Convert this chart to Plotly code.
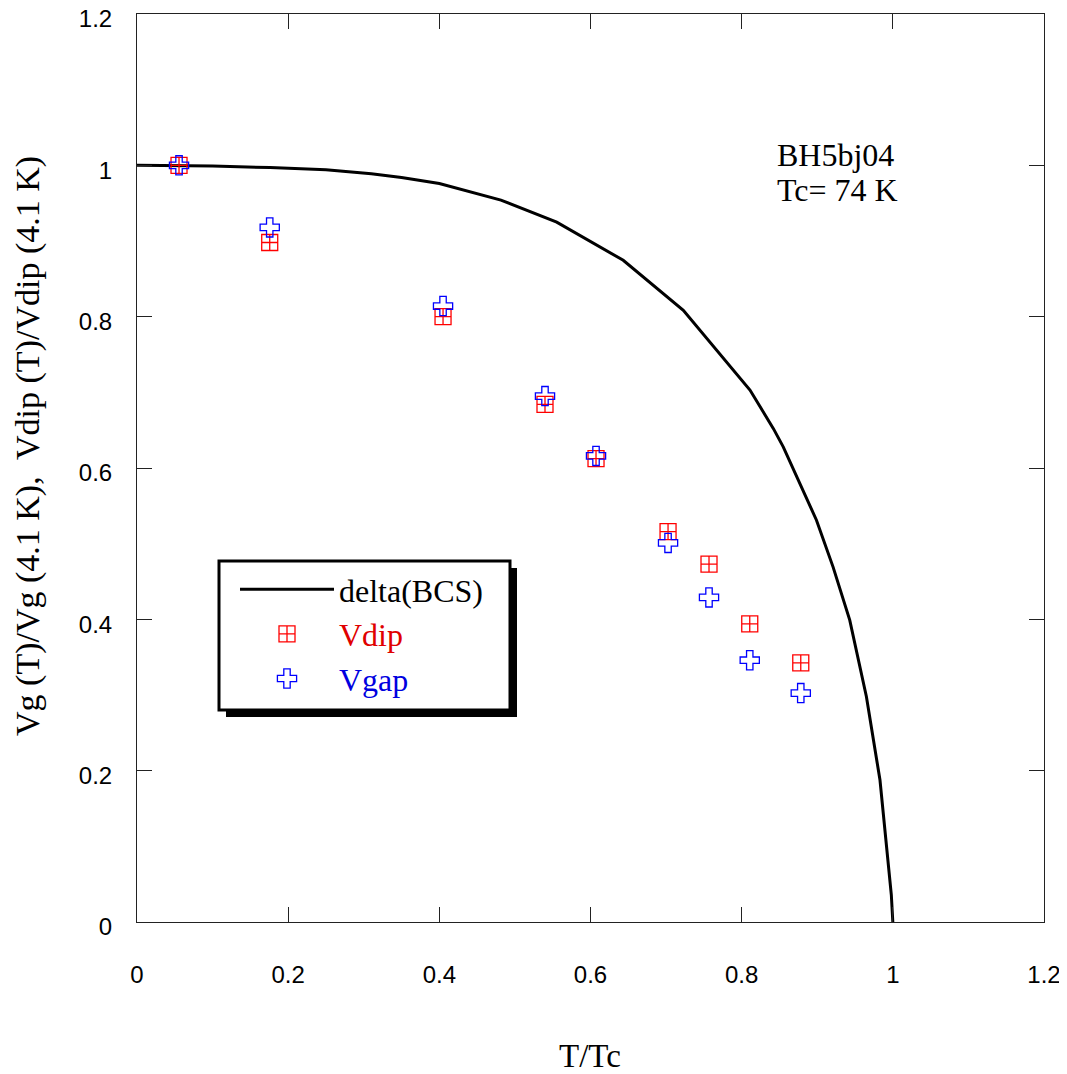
import plotly.graph_objects as go

# ---- data ----
t_pts = [0.0556, 0.1756, 0.4049, 0.5398, 0.6073, 0.7026, 0.7568, 0.8107, 0.8782]
vdip = [1.0, 0.898, 0.800, 0.684, 0.6125, 0.516, 0.473, 0.394, 0.3425]
vgap = [1.0, 0.918, 0.814, 0.695, 0.616, 0.501, 0.429, 0.346, 0.3025]

bcs_t = [0.0, 0.10, 0.176, 0.25, 0.31, 0.35, 0.40, 0.45, 0.4815, 0.5553, 0.6433,
         0.7228, 0.789, 0.811, 0.842, 0.855, 0.899, 0.921, 0.943, 0.965, 0.983,
         0.992, 0.998, 1.0]
bcs_d = [1.0, 0.999, 0.997, 0.994, 0.989, 0.984, 0.976, 0.962, 0.954, 0.925, 0.8745,
         0.8085, 0.729, 0.703, 0.652, 0.628, 0.531, 0.469, 0.399, 0.298, 0.1876,
         0.0995, 0.036, 0.0]

xticks = [0, 0.2, 0.4, 0.6, 0.8, 1, 1.2]
yticks = [0, 0.2, 0.4, 0.6, 0.8, 1, 1.2]

SERIF = "Liberation Serif"
SANS = "Liberation Sans"

fig = go.Figure()
fig.add_trace(go.Scatter(x=bcs_t, y=bcs_d, mode="lines",
                         line=dict(color="black", width=3),
                         name="delta(BCS)"))
fig.add_trace(go.Scatter(x=t_pts, y=vdip, mode="markers",
                         marker=dict(symbol="square-cross-open", size=16,
                                     color="#ff0000", line=dict(width=1.3, color="#ff0000")),
                         name='<span style="color:#e00000">Vdip</span>'))
fig.add_trace(go.Scatter(x=t_pts, y=vgap, mode="markers",
                         marker=dict(symbol="cross-open", size=16,
                                     color="#0000ff", line=dict(width=1.3, color="#0000ff")),
                         name='<span style="color:#0000e0">Vgap</span>'))

OFF = 8  # page body margin
W, H = 1067 - OFF, 1074 - OFF
L, R, T, B = 137 - OFF, 23, 14 - OFF, 152
pw, ph = W - L - R, H - T - B

def px(xs):
    # screen pixel x -> paper
    return (xs - OFF - L) / pw

def py(ys):
    # screen pixel y -> paper
    return (H - B - (ys - OFF)) / ph

shapes = [
    dict(type="rect", xref="paper", yref="paper",
         x0=px(226), x1=px(517), y0=py(717), y1=py(568),
         fillcolor="black", line=dict(width=0), layer="above"),
    dict(type="rect", xref="paper", yref="paper",
         x0=px(219), x1=px(510), y0=py(710), y1=py(561),
         fillcolor="white", line=dict(width=3, color="black"), layer="above"),
]

annotations = [
    dict(text="BH5bj04", xref="paper", yref="paper", x=px(775), y=py(155),
         xanchor="left", yanchor="middle", showarrow=False,
         font=dict(family=SERIF, size=32, color="black")),
    dict(text="Tc= 74 K", xref="paper", yref="paper", x=px(775), y=py(190),
         xanchor="left", yanchor="middle", showarrow=False,
         font=dict(family=SERIF, size=32, color="black")),
    dict(text="T/Tc", xref="paper", yref="paper", x=px(590), y=py(1056),
         xanchor="center", yanchor="middle", showarrow=False,
         font=dict(family=SERIF, size=33, color="black")),
    dict(text="Vg (T)/Vg (4.1 K),  Vdip (T)/Vdip (4.1 K)", textangle=-90,
         xref="paper", yref="paper", x=px(28), y=py(446),
         xanchor="center", yanchor="middle", showarrow=False,
         font=dict(family=SERIF, size=34, color="black")),
]

axis_common = dict(showline=True, linecolor="#222", linewidth=1, mirror="ticks",
                   ticks="inside", ticklen=15, tickcolor="#222", tickwidth=1,
                   showgrid=False, zeroline=False, automargin=False,
                   ticklabeloverflow="allow",
                   tickfont=dict(family=SANS, size=24, color="black"))

fig.update_layout(
    width=W, height=H,
    margin=dict(l=L, r=R, t=T, b=B),
    paper_bgcolor="white", plot_bgcolor="white",
    xaxis=dict(range=[0, 1.2], tickvals=xticks, ticktext=[f"{v:g}" for v in xticks],
               ticklabelstandoff=31, **axis_common),
    yaxis=dict(range=[0, 1.2], tickvals=yticks, ticktext=[f"{v:g}" for v in yticks],
               ticklabelstandoff=19, ticklabelshift=5, **axis_common),
    showlegend=True,
    legend=dict(x=px(235), y=py(562), xanchor="left", yanchor="top",
                bgcolor="rgba(0,0,0,0)", borderwidth=0,
                font=dict(family=SERIF, size=32, color="black"),
                itemwidth=94, traceorder="normal"),
    shapes=shapes,
    annotations=annotations,
)

fig.write_html("out.html")
